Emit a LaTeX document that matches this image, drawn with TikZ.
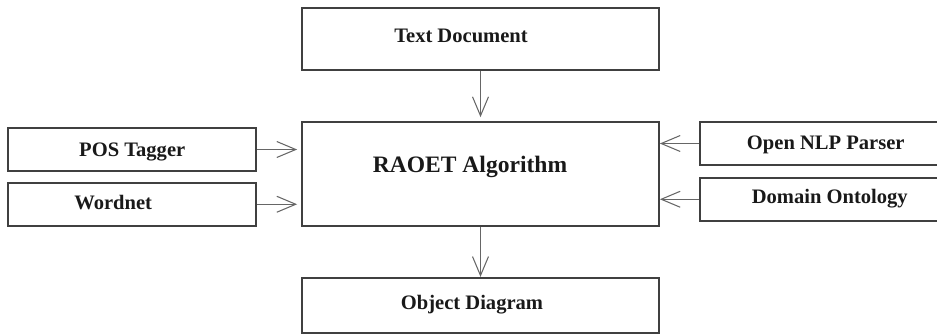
\documentclass[tikz,border=0pt]{standalone}
\usepackage{fontspec}
\setmainfont{Liberation Serif}
\usepackage{tikz}
\usetikzlibrary{positioning}
\usetikzlibrary{arrows.meta}
\tikzset{block/.style={draw=black!75, line width=1pt, inner sep=0pt}}
\tikzset{caption/.style={font=\fontsize{11.7}{14}\selectfont\bfseries, text=black!90, inner sep=0pt, text height=7.7pt, text depth=0pt}}
\tikzset{flow/.style={draw=black!60, line width=0.6pt, -{Straight Barb[length=0.38cm,width=0.32cm]}}}

\begin{document}
\begin{tikzpicture}[node distance=1cm and 0.88cm]
\useasboundingbox (-9.61,-3.18) rectangle (9.13,3.48);
\node[block, minimum width=7.14cm, minimum height=2.08cm] (raoet) {};
\node[block, minimum width=7.14cm, minimum height=1.24cm, above=of raoet] (textdoc) {};
\node[block, minimum width=7.14cm, minimum height=1.10cm, below=of raoet] (objdiag) {};
\node[block, minimum width=4.96cm, minimum height=0.86cm, below left=0.12cm and 0.88cm of raoet.north west] (pos) {};
\node[block, minimum width=4.96cm, minimum height=0.86cm, below=0.2cm of pos] (wordnet) {};
\node[block, minimum width=5.04cm, minimum height=0.86cm, below right=0cm and 0.78cm of raoet.north east] (nlp) {};
\node[block, minimum width=5.04cm, minimum height=0.86cm, below=0.22cm of nlp] (onto) {};

\node[caption, xshift=-0.39cm, yshift=0.07cm] (textdoc-t) at (textdoc) {Text Document};
\node[caption, font=\fontsize{13.4}{16}\selectfont\bfseries, text height=8.9pt, xshift=-0.21cm, yshift=0.18cm] (raoet-t) at (raoet) {RAOET Algorithm};
\node[caption, xshift=-0.17cm, yshift=0.06cm] (objdiag-t) at (objdiag) {Object Diagram};
\node[caption] (pos-t) at (pos) {POS Tagger};
\node[caption, xshift=-0.38cm, yshift=0.04cm] (wordnet-t) at (wordnet) {Wordnet};
\node[caption, yshift=0.02cm] (nlp-t) at (nlp) {Open NLP Parser};
\node[caption, xshift=0.08cm, yshift=0.06cm] (onto-t) at (onto) {Domain Ontology};

\draw[flow, shorten >=0.08cm] (textdoc) -- (raoet);
\draw[flow] (raoet) -- (objdiag);
\draw[flow, shorten >=0.08cm] (pos) -- (pos -| raoet.west);
\draw[flow, shorten >=0.08cm] (wordnet) -- (wordnet -| raoet.west);
\draw[flow] (nlp) -- (nlp -| raoet.east);
\draw[flow] (onto) -- (onto -| raoet.east);
\end{tikzpicture}
\end{document}
